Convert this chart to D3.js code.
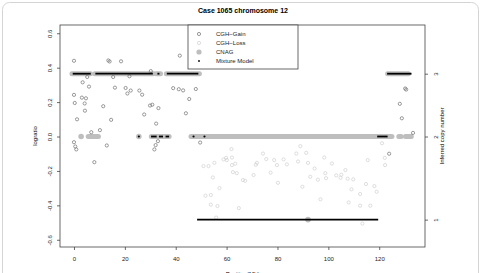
<!DOCTYPE html>
<html>
<head>
<meta charset="utf-8">
<script src="https://cdn.jsdelivr.net/npm/d3@7"></script>
<style>
  body { margin: 0; background: #fff; }
  svg { display: block; font-family: "Liberation Sans", Arial, sans-serif; }
</style>
</head>
<body>
<svg id="chart" width="482" height="273"></svg>
<script>
// chart values
const xTicks = [0, 20, 40, 60, 80, 100, 120];
const yTicks = [-0.6, -0.4, -0.2, 0, 0.2, 0.4, 0.6];
const copyTicks = [1, 2, 3];
const copyLevels = [-0.483, 0, 0.365]; // logratio where each copy number sits

// CGH probes in gained regions [position, logratio]
const gainPoints = [
  [0, 0.44], [13.5, 0.442], [14.0, 0.436], [18.5, 0.437], [41.6, 0.47], [30.2, 0.38],
  [5.2, 0.346], [15.4, 0.346], [21.8, 0.35],
  [3.4, 0.315], [5.9, 0.29], [16.1, 0.284], [20.3, 0.282], [22.3, 0.267], [21.0, 0.25],
  [25.7, 0.267], [26.8, 0.243], [39.0, 0.281], [41.2, 0.275], [42.9, 0.268], [47.9, 0.276],
  [45.3, 0.218], [44.0, 0.135], [0, 0.242], [3.1, 0.226], [4.7, 0.222], [0.3, 0.195],
  [4.2, 0.192], [4.3, 0.15], [11.5, 0.176], [29.9, 0.18], [30.8, 0.185], [33.2, 0.165],
  [27.6, 0.128], [1.2, 0.1], [14.6, 0.097], [32.3, 0.075], [10.2, 0.037], [6.8, 0.025],
  [0, -0.033], [0.5, -0.058], [0.9, -0.075], [8.0, -0.149], [12.9, -0.052],
  [31.6, -0.075], [32.1, -0.05], [33.0, -0.027], [49.6, -0.035],
  [130.2, 0.279], [130.6, 0.273], [128.1, 0.19], [128.9, 0.106], [133.3, 0.021], [123.9, -0.1]
];

// CGH probes in lost regions
const lossPoints = [
  [61.9, -0.073], [50.9, -0.172], [52.9, -0.172], [55.2, -0.153], [58.8, -0.133], [59.8, -0.124],
  [60.1, -0.137], [62.1, -0.122], [62.1, -0.166], [63.4, -0.158], [62.5, -0.207], [64.0, -0.213],
  [54.6, -0.238], [66.4, -0.253], [67.3, -0.257], [57.2, -0.3], [51.7, -0.344], [53.8, -0.34],
  [53.8, -0.396], [56.4, -0.404], [64.8, -0.416], [55.9, -0.471], [70.6, -0.224], [74.3, -0.099],
  [71.9, -0.153], [71.5, -0.164], [75.6, -0.131], [78.7, -0.137], [77.3, -0.21], [80.2, -0.269],
  [79.8, -0.166], [82.4, -0.133], [83.7, -0.162], [89.0, -0.056], [87.4, -0.099], [91.3, -0.095],
  [88.1, -0.145], [92.0, -0.153], [98.4, -0.122], [101.4, -0.157], [94.6, -0.186], [92.9, -0.234],
  [95.9, -0.251], [98.8, -0.213], [99.1, -0.242], [103.1, -0.226], [105.1, -0.222], [104.8, -0.24],
  [106.7, -0.195], [107.6, -0.245], [109.8, -0.249], [115.5, -0.137], [109.1, -0.307],
  [114.8, -0.276], [118.1, -0.288], [119.0, -0.321], [112.5, -0.334], [89.8, -0.292],
  [96.9, -0.365], [108.0, -0.383], [112.5, -0.402], [116.5, -0.402], [113.4, -0.506],
  [121.1, -0.039], [122.2, -0.124], [122.3, -0.166]
];

// CNAG calls, runs of probes [from, to, logratio]
const cnagRuns = [
  [-0.8, 6.5, 0.365], [8.2, 31.2, 0.365], [32.2, 34.0, 0.365], [36.3, 49.3, 0.365], [123.3, 131.5, 0.365],
  [2.8, 2.8, 0], [5.6, 9.6, 0], [25.5, 25.5, 0], [30.4, 37.4, 0], [46.0, 125.0, 0],
  [127.7, 128.6, 0], [130.3, 132.6, 0],
  [92.0, 92.0, -0.483]
];

// mixture model calls, runs of probes [from, to, logratio]
const mixtureRuns = [
  [-0.5, 6.6, 0.365], [8.4, 31.0, 0.365], [32.8, 33.6, 0.365], [36.5, 48.9, 0.365], [123.1, 132.7, 0.365],
  [25.5, 25.5, 0], [30.3, 32.5, 0], [33.4, 35.0, 0], [36.0, 37.4, 0], [47.0, 47.0, 0], [51.3, 51.3, 0],
  [119.2, 123.3, 0],
  [48.4, 119.6, -0.483]
];

const legendItems = ["CGH\u2212Gain", "CGH\u2212Loss", "CNAG", "Mixture Model"];

const gainColor = "#707070";
const lossColor = "#d0d0d0";
const cnagColor = "#bebebe";

const svg = d3.select("#chart");

// rounded frame round the figure
svg.append("rect")
  .attr("x", 2.5).attr("y", 2.5)
  .attr("width", 476).attr("height", 290)
  .attr("rx", 7)
  .attr("fill", "none")
  .attr("stroke", "#d4d4d4");

const boxLeft = 60, boxRight = 425, boxTop = 25, boxBottom = 247;

const x = d3.scaleLinear().domain([-5.5, 138]).range([boxLeft, boxRight]);
const y = d3.scaleLinear().domain([-0.642, 0.648]).range([boxBottom, boxTop]);

// CNAG runs (thick grey)
const plot = svg.append("g");
plot.selectAll("line.cnag")
  .data(cnagRuns.filter(d => d[0] != d[1]))
  .join("line")
  .attr("class", "cnag")
  .attr("x1", d => x(d[0])).attr("x2", d => x(d[1]))
  .attr("y1", d => y(d[2])).attr("y2", d => y(d[2]))
  .attr("stroke", cnagColor)
  .attr("stroke-width", 5)
  .attr("stroke-linecap", "round");

plot.selectAll("circle.cnag")
  .data(cnagRuns.filter(d => d[0] == d[1]))
  .join("circle")
  .attr("class", "cnag")
  .attr("cx", d => x(d[0])).attr("cy", d => y(d[2]))
  .attr("r", 2.8)
  .attr("fill", cnagColor);

// CGH points
plot.selectAll("circle.loss")
  .data(lossPoints)
  .join("circle")
  .attr("class", "loss")
  .attr("cx", d => x(d[0])).attr("cy", d => y(d[1]))
  .attr("r", 1.6)
  .attr("fill", "none")
  .attr("stroke", lossColor)
  .attr("stroke-width", 0.7);

plot.selectAll("circle.gain")
  .data(gainPoints)
  .join("circle")
  .attr("class", "gain")
  .attr("cx", d => x(d[0])).attr("cy", d => y(d[1]))
  .attr("r", 1.6)
  .attr("fill", "none")
  .attr("stroke", gainColor)
  .attr("stroke-width", 0.7);

// mixture model runs (black)
plot.selectAll("line.mix")
  .data(mixtureRuns.filter(d => d[0] != d[1]))
  .join("line")
  .attr("class", "mix")
  .attr("x1", d => x(d[0])).attr("x2", d => x(d[1]))
  .attr("y1", d => y(d[2])).attr("y2", d => y(d[2]))
  .attr("stroke", "#000")
  .attr("stroke-width", 1.8);

plot.selectAll("circle.mix")
  .data(mixtureRuns.filter(d => d[0] == d[1]))
  .join("circle")
  .attr("class", "mix")
  .attr("cx", d => x(d[0])).attr("cy", d => y(d[2]))
  .attr("r", 1.1)
  .attr("fill", "#000");

// plot box
svg.append("rect")
  .attr("x", boxLeft).attr("y", boxTop)
  .attr("width", boxRight - boxLeft).attr("height", boxBottom - boxTop)
  .attr("fill", "none")
  .attr("stroke", "#444")
  .attr("stroke-width", 0.8);

// axes
function styleAxis(g) {
  g.select(".domain").remove();
  g.selectAll(".tick line").attr("stroke", "#444").attr("stroke-width", 0.8);
  g.selectAll("text").attr("font-size", 6).attr("fill", "#222")
    .attr("font-family", "Liberation Sans, Arial, sans-serif");
}

svg.append("g")
  .attr("transform", `translate(0,${boxBottom})`)
  .call(d3.axisBottom(x).tickValues(xTicks).tickSize(3))
  .call(styleAxis)
  .call(g => g.selectAll("text").attr("y", 14).attr("dy", null));

svg.append("g")
  .attr("transform", `translate(${boxLeft},0)`)
  .call(d3.axisLeft(y).tickValues(yTicks).tickSize(3).tickFormat(d => d.toFixed(1)))
  .call(styleAxis)
  .call(g => g.selectAll("text")
    .attr("x", null).attr("dy", null)
    .attr("text-anchor", "middle")
    .attr("transform", "translate(-8,0) rotate(-90)"));

const copyScale = d3.scaleOrdinal().domain(copyTicks).range(copyLevels.map(v => y(v)));
svg.append("g")
  .attr("transform", `translate(${boxRight},0)`)
  .call(d3.axisRight(copyScale).tickSize(3))
  .call(styleAxis)
  .call(g => g.selectAll("text")
    .attr("x", null).attr("dy", null)
    .attr("text-anchor", "middle")
    .attr("transform", "translate(12.5,0) rotate(-90)"));

// titles
svg.append("text")
  .attr("x", 243).attr("y", 12.7)
  .attr("text-anchor", "middle")
  .attr("font-size", 7).attr("font-weight", "bold")
  .text("Case 1065 chromosome 12");

svg.append("text")
  .attr("x", 242.5).attr("y", 275.5)
  .attr("text-anchor", "middle")
  .attr("font-size", 6)
  .text("Position(Mb)");

svg.append("text")
  .attr("transform", "translate(36.5,136) rotate(-90)")
  .attr("text-anchor", "middle")
  .attr("font-size", 6)
  .text("logratio");

svg.append("text")
  .attr("transform", "translate(444,136) rotate(-90)")
  .attr("text-anchor", "middle")
  .attr("font-size", 6)
  .text("Inferred copy number");

// legend
const legend = svg.append("g");
legend.append("rect")
  .attr("x", 188).attr("y", boxTop)
  .attr("width", 110).attr("height", 44)
  .attr("fill", "#fff")
  .attr("stroke", "#444")
  .attr("stroke-width", 0.8);

const rowY = d3.scalePoint().domain(legendItems).range([34, 61]);

const rows = legend.selectAll("g.row")
  .data(legendItems)
  .join("g")
  .attr("class", "row")
  .attr("transform", d => `translate(0,${rowY(d)})`);

rows.append("text")
  .attr("x", 216).attr("y", 2.1)
  .attr("font-size", 6)
  .attr("fill", "#222")
  .text(d => d);

rows.each(function(d, i) {
  const r = d3.select(this);
  if (i < 2) {
    r.append("circle").attr("cx", 199).attr("r", 1.6)
      .attr("fill", "none").attr("stroke", i == 0 ? gainColor : lossColor).attr("stroke-width", 0.7);
  } else if (i == 2) {
    r.append("circle").attr("cx", 199).attr("r", 2.6).attr("fill", cnagColor);
  } else {
    r.append("circle").attr("cx", 199).attr("r", 0.9).attr("fill", "#000");
  }
});
</script>
</body>
</html>
